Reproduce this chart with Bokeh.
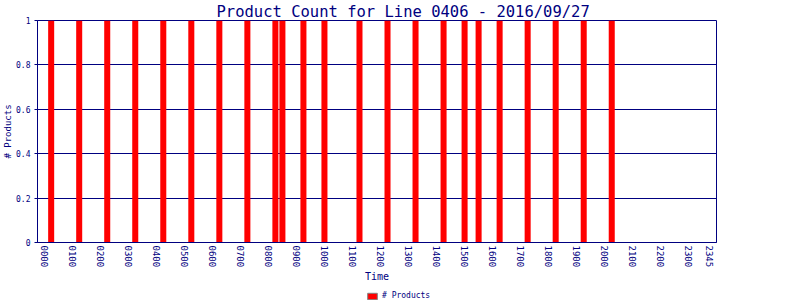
from bokeh.plotting import figure
from bokeh.layouts import column
from bokeh.models import Range1d, FixedTicker, Legend, LegendItem
from bokeh.embed import file_html
from bokeh.resources import INLINE

# 15-minute time slots (categories)
slots = ["%02d%02d" % (h, m) for h in range(24) for m in (0, 15, 30, 45)]

# Bars: time slot and product count
bar_times = ["0015", "0115", "0215", "0315", "0415", "0515", "0615", "0715",
             "0815", "0830", "0915", "1000", "1115", "1215", "1315", "1415",
             "1500", "1530", "1615", "1715", "1815", "1915", "2015"]
bar_counts = [1, 1, 1, 1, 1, 1, 1, 1,
              1, 1, 1, 1, 1, 1, 1, 1,
              1, 1, 1, 1, 1, 1, 1]

tick_labels = ["0000", "0100", "0200", "0300", "0400", "0500", "0600", "0700",
               "0800", "0900", "1000", "1100", "1200", "1300", "1400", "1500",
               "1600", "1700", "1800", "1900", "2000", "2100", "2200", "2300", "2345"]
y_ticks = [0, 0.2, 0.4, 0.6, 0.8, 1]
y_tick_labels = ["0", "0.2", "0.4", "0.6", "0.8", "1"]

NAVY = "#000080"
MONO = "DejaVu Sans Mono"

bar_x = [slots.index(t) for t in bar_times]
tick_pos = [slots.index(t) for t in tick_labels]

p = figure(frame_width=679, frame_height=222, output_backend="svg", toolbar_location=None,
           x_range=Range1d(-0.95, len(slots) - 0.05), y_range=Range1d(0, 1),
           title="Product Count for Line 0406 - 2016/09/27")
p.min_border_left = 36
p.min_border_right = 85
p.min_border_top = 20
p.min_border_bottom = 0

p.title.text_font = MONO
p.title.text_font_size = "15.5px"
p.title.text_font_style = "normal"
p.title.text_color = NAVY
p.title.align = "left"
p.title.offset = 179
p.title.standoff = 0

p.outline_line_color = NAVY
p.outline_line_width = 1
p.outline_line_alpha = 1
p.background_fill_color = "white"
p.border_fill_color = "white"

p.xgrid.visible = False
p.ygrid.grid_line_color = NAVY
p.ygrid.grid_line_width = 1
p.ygrid.ticker = FixedTicker(ticks=y_ticks)

r = p.vbar(x=bar_x, top=bar_counts, width=0.86, bottom=0,
           fill_color="#FF0000", line_color=None)

# X axis
xa = p.xaxis[0]
xa.ticker = FixedTicker(ticks=tick_pos)
xa.major_label_overrides = {pos: lab for pos, lab in zip(tick_pos, tick_labels)}
xa.major_label_orientation = "vertical"
xa.major_label_text_font = MONO
xa.major_label_text_font_size = "9px"
xa.major_label_text_color = NAVY
xa.major_tick_out = 0
xa.major_tick_in = 0
xa.minor_tick_out = 0
xa.minor_tick_in = 0
xa.major_label_standoff = 3
xa.axis_line_color = NAVY
xa.axis_label = "Time"
xa.axis_label_text_font = MONO
xa.axis_label_text_font_size = "10px"
xa.axis_label_text_font_style = "normal"
xa.axis_label_text_color = NAVY
xa.axis_label_standoff = 1

# Y axis
ya = p.yaxis[0]
ya.ticker = FixedTicker(ticks=y_ticks)
ya.major_label_overrides = {t: l for t, l in zip(y_ticks, y_tick_labels)}
ya.major_label_text_font = MONO
ya.major_label_text_font_size = "8px"
ya.major_label_text_color = NAVY
ya.major_tick_out = 3
ya.major_tick_in = 0
ya.major_tick_line_color = NAVY
ya.minor_tick_out = 0
ya.minor_tick_in = 0
ya.major_label_standoff = 4
ya.axis_line_color = NAVY
ya.axis_label = "# Products"
ya.axis_label_text_font = MONO
ya.axis_label_text_font_size = "9px"
ya.axis_label_text_font_style = "normal"
ya.axis_label_text_color = NAVY
ya.axis_label_standoff = 0

# Legend strip under the chart
q = figure(width=800, height=19, output_backend="svg", toolbar_location=None,
           x_axis_location=None, y_axis_location=None,
           x_range=Range1d(0, 800), y_range=Range1d(0, 19), min_border=0)
q.outline_line_color = None
q.grid.visible = False
q.background_fill_color = "white"
q.border_fill_color = "white"
swatch = q.vbar(x=bar_x, top=bar_counts, width=1, fill_color="#FF0000",
                line_color="#808080", visible=False)

legend = Legend(items=[LegendItem(label="# Products", renderers=[swatch])],
                location=(329, 4), orientation="horizontal",
                padding=0, margin=0, spacing=0,
                glyph_width=12, glyph_height=8, label_standoff=4,
                label_text_font=MONO, label_text_font_size="8px",
                label_text_color=NAVY, label_height=8,
                border_line_alpha=0, background_fill_alpha=0)
q.add_layout(legend, "center")

layout = column(p, q, spacing=0)
open("out.html", "w").write(file_html(layout, INLINE))
